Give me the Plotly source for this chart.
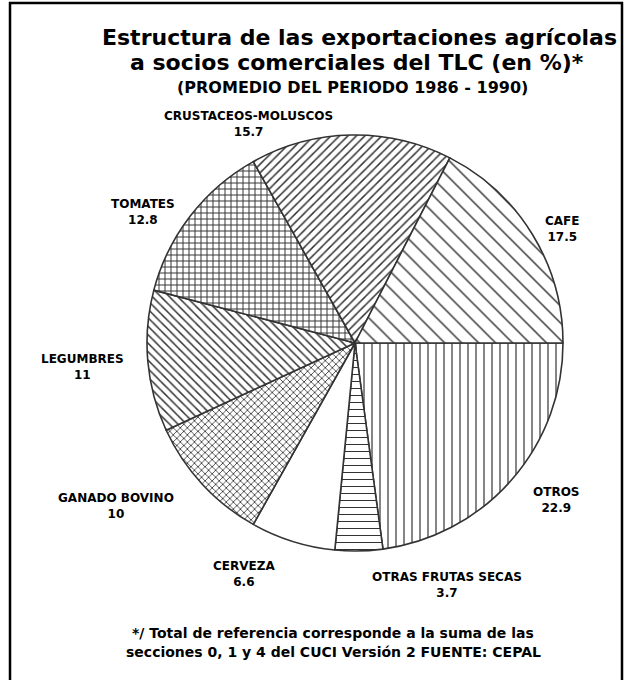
import plotly.graph_objects as go

# Datos (promedio 1986-1990, %), en el orden del gráfico (sentido horario desde las 3)
categorias = ["OTROS", "OTRAS FRUTAS SECAS", "CERVEZA", "GANADO BOVINO",
              "LEGUMBRES", "TOMATES", "CRUSTACEOS-MOLUSCOS", "CAFE"]
valores = [22.9, 3.7, 6.6, 10, 11, 12.8, 15.7, 17.5]

# tramas de cada sector
tramas = ["|", "-", "", "x", "\\", "+", "/", "\\"]
tam_trama = [8, 7, 8, 5, 6, 6, 6, 12]
solidez = [0.15, 0.15, 0.15, 0.3, 0.25, 0.3, 0.25, 0.12]

# posición (px) del centro de cada etiqueta
pos_etiq = {
    "OTROS": (556, 500),
    "OTRAS FRUTAS SECAS": (447, 585),
    "CERVEZA": (244, 574),
    "GANADO BOVINO": (116, 506),
    "LEGUMBRES": (82, 367),
    "TOMATES": (143, 212),
    "CRUSTACEOS-MOLUSCOS": (248, 124),
    "CAFE": (562, 229),
}

W, H = 632, 680
FUENTE = "DejaVu Sans"


def texto(t, x, y, size):
    # annotation centrada en (x, y) px desde la esquina superior izquierda
    return dict(
        x=x / W, y=1 - y / H, xref="paper", yref="paper",
        xanchor="center", yanchor="middle",
        text=t, showarrow=False, align="center",
        font=dict(family=FUENTE, size=size, color="black"),
    )


fig = go.Figure()
fig.add_trace(
    go.Pie(
        labels=categorias,
        values=valores,
        sort=False,
        direction="clockwise",
        rotation=90,
        textinfo="none",
        hoverinfo="label+value",
        showlegend=False,
        domain=dict(x=[147 / W, 563 / W], y=[1 - 551 / H, 1 - 135 / H]),
        marker=dict(
            colors=["white"] * len(categorias),
            line=dict(color="#333333", width=1.6),
            pattern=dict(
                shape=tramas,
                size=tam_trama,
                solidity=solidez,
                fgcolor="#333333",
                bgcolor="white",
            ),
        ),
    )
)

anots = []
for cat, v in zip(categorias, valores):
    x, y = pos_etiq[cat]
    anots.append(texto(f"<b>{cat}</b><br><b>{v:g}</b>", x, y, 12))

# título
anots.append(texto("<b>Estructura de las exportaciones agrícolas</b>", 359, 37, 22))
anots.append(texto("<b>a socios comerciales del TLC (en %)*</b>", 357, 62, 22))
anots.append(texto("<b>(PROMEDIO DEL PERIODO 1986 - 1990)</b>", 352, 87, 16))
# nota al pie
anots.append(texto("<b>*/ Total de referencia corresponde a la suma de las</b>", 333, 633, 14))
anots.append(texto("<b>secciones 0, 1 y 4 del CUCI Versión 2 FUENTE: CEPAL</b>", 333, 652, 14))

fig.update_layout(
    width=W, height=H,
    margin=dict(l=0, r=0, t=0, b=0),
    paper_bgcolor="white",
    plot_bgcolor="white",
    annotations=anots,
    shapes=[dict(
        type="rect", xref="paper", yref="paper",
        x0=10 / W, x1=622 / W, y0=-0.05, y1=1 - 3 / H,
        line=dict(color="black", width=2.5),
    )],
)

fig.write_html("out.html", config={"displayModeBar": False},
               post_script="document.body.style.margin='0';")
